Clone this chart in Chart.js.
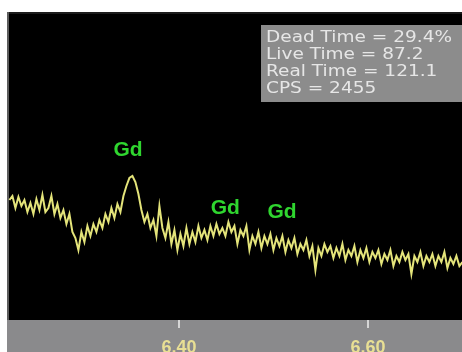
<!DOCTYPE html>
<html>
<head>
<meta charset="utf-8">
<script src="https://cdn.jsdelivr.net/npm/chart.js@4/dist/chart.umd.min.js"></script>
<style>
  html, body { margin: 0; padding: 0; background: #fff; }
  canvas { display: block; }
</style>
</head>
<body>
<canvas id="spectrum" width="462" height="352"></canvas>
<script>
// XRF spectrum around the Gd L lines
const channelStart = 6.2205;   // keV of first channel
const channelWidth = 0.003175; // keV per channel
const counts = [
  120, 124, 112, 123, 114, 120, 108, 117, 106, 121,
  110, 125, 108, 112, 124, 106, 116, 102, 110, 96,
  106, 88, 82, 70, 88, 78, 94, 84, 96, 88,
  100, 92, 106, 98, 112, 102, 116, 108, 124, 134,
  142, 144, 138, 126, 110, 98, 106, 92, 100, 84,
  114, 92, 82, 98, 76, 90, 70, 86, 74, 92,
  76, 88, 78, 94, 82, 90, 80, 94, 84, 96,
  86, 92, 84, 98, 88, 94, 76, 90, 84, 94,
  70, 84, 76, 88, 72, 84, 76, 86, 70, 82,
  74, 84, 68, 80, 72, 82, 66, 76, 70, 80,
  64, 74, 50, 72, 64, 76, 68, 74, 62, 72,
  64, 76, 60, 70, 64, 74, 58, 70, 62, 72,
  58, 68, 62, 70, 56, 66, 60, 70, 54, 64,
  58, 68, 60, 66, 46, 64, 58, 68, 54, 64,
  58, 66, 54, 64, 58, 68, 52, 62, 56, 64,
  54, 58
];
const tickValues = [6.40, 6.60];
const peakLabels = ["Gd", "Gd", "Gd"];
const peakEnergies = [6.346, 6.449, 6.509];
const peakHeights = [170, 112, 108];
const infoLines = ["Dead Time = 29.4%", "Live Time = 87.2", "Real Time = 121.1", "CPS = 2455"];

const points = counts.map((c, i) => ({ x: channelStart + i * channelWidth, y: c }));

const backdrop = {
  id: "backdrop",
  beforeDraw(chart) {
    const { ctx, chartArea: a, width, height } = chart;
    ctx.save();
    ctx.fillStyle = "#ffffff";
    ctx.fillRect(0, 0, width, height);
    ctx.fillStyle = "#8a8a8c";
    ctx.fillRect(a.left - 1, a.bottom, width - a.left + 1, height - a.bottom);
    ctx.fillStyle = "#000000";
    ctx.fillRect(a.left, a.top, a.right - a.left, a.bottom - a.top);
    ctx.fillStyle = "#1c1c1c";
    ctx.fillRect(a.left, a.top, a.right - a.left, 2);
    ctx.fillStyle = "#5c5c5c";
    ctx.fillRect(a.left - 1, a.top, 2, a.bottom - a.top);
    ctx.restore();
  },
  afterDatasetsDraw(chart) {
    const { ctx, scales } = chart;
    ctx.save();
    // peak labels
    ctx.font = "bold 21px 'Liberation Sans', Arial, sans-serif";
    ctx.fillStyle = "#2fd62f";
    ctx.textAlign = "center";
    ctx.textBaseline = "middle";
    peakLabels.forEach((t, i) => {
      ctx.fillText(t, scales.x.getPixelForValue(peakEnergies[i]), scales.y.getPixelForValue(peakHeights[i]));
    });
    // info box
    ctx.fillStyle = "#8c8c8c";
    ctx.fillRect(261, 25, 201, 77);
    ctx.font = "15px 'DejaVu Sans', sans-serif";
    ctx.textAlign = "left";
    ctx.textBaseline = "alphabetic";
    ctx.fillStyle = "#e6e6e6";
    const k = 186 / ctx.measureText(infoLines[0]).width;
    infoLines.forEach((t, i) => {
      ctx.save();
      ctx.translate(266, 42 + i * 17);
      ctx.scale(k, 1);
      ctx.fillText(t, 0, 0);
      ctx.restore();
    });
    ctx.restore();
  }
};

new Chart(document.getElementById("spectrum"), {
  type: "line",
  data: {
    datasets: [{
      data: points,
      borderColor: "#e4e47a",
      borderWidth: 2,
      pointRadius: 0,
      tension: 0,
      fill: false
    }]
  },
  options: {
    responsive: false,
    devicePixelRatio: 1,
    animation: false,
    layout: { padding: { left: 8, top: 12, right: 0, bottom: 0 } },
    plugins: { legend: { display: false }, tooltip: { enabled: false } },
    scales: {
      x: {
        type: "linear",
        min: 6.219,
        max: 6.6995,
        afterBuildTicks: (axis) => { axis.ticks = tickValues.map((v) => ({ value: v })); },
        afterFit: (axis) => { axis.height = 32; },
        ticks: {
          color: "#e8df94",
          font: { family: "'Liberation Sans', Arial, sans-serif", size: 18, weight: "bold" },
          padding: 9,
          maxRotation: 0,
          callback: (v) => Number(v).toFixed(2)
        },
        grid: { drawOnChartArea: false, drawTicks: true, tickLength: 8, color: "#d6d6d6", lineWidth: 2 },
        border: { display: false }
      },
      y: {
        display: false,
        min: 0,
        max: 308
      }
    }
  },
  plugins: [backdrop]
});
</script>
</body>
</html>
